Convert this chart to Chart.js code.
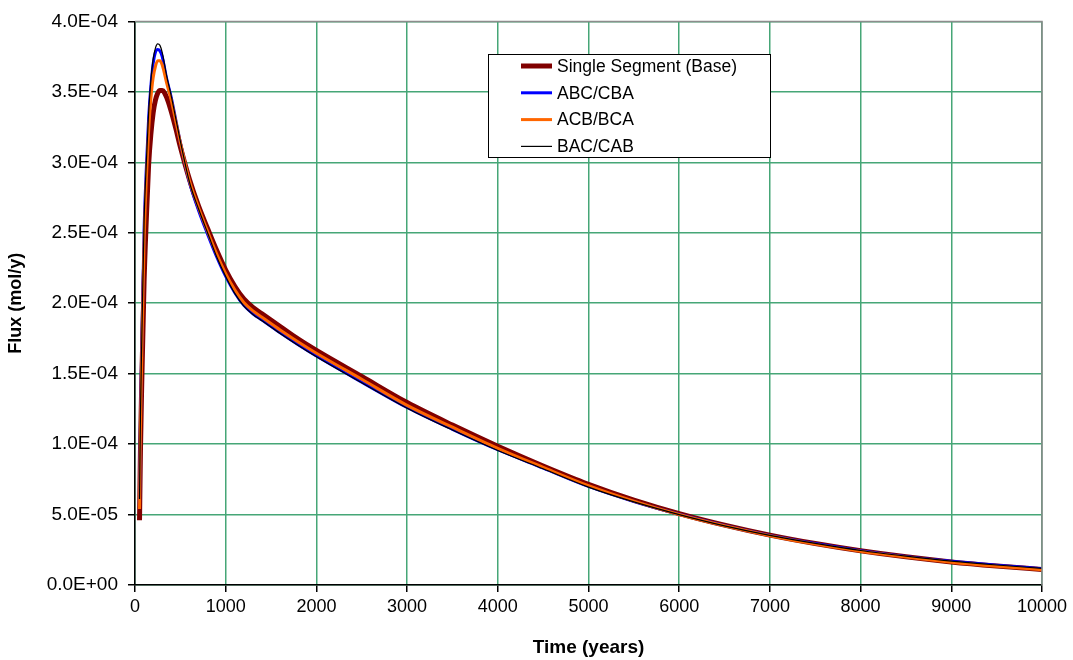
<!DOCTYPE html>
<html>
<head>
<meta charset="utf-8">
<script src="https://cdn.jsdelivr.net/npm/chart.js@4.4.1/dist/chart.umd.min.js"></script>
<style>
  html, body { margin: 0; padding: 0; background: #fff; }
  #wrap { width: 1073px; height: 660px; }
</style>
</head>
<body>
<div id="wrap"><canvas id="flux" width="1073" height="660"></canvas></div>
<script>
// time (years)
const years = [50, 60, 75, 100, 125, 150, 175, 200, 225, 250, 275, 300, 350, 400, 450, 500,
	600, 700, 800, 900, 1000, 1100, 1200, 1300, 1400, 1600, 1800, 2000, 2500, 3000, 3500, 4000, 4500,
	5000, 5500, 6000, 6500, 7000, 7500, 8000, 8500, 9000, 9500, 10000];

// flux (mol/y)
const baseFlux = [4.6e-5, 9.5e-5, 1.45e-4, 2.15e-4, 2.6e-4, 2.98e-4, 3.2e-4, 3.35e-4, 3.44e-4, 3.49e-4, 3.51e-4, 3.51e-4, 3.46e-4, 3.36e-4, 3.24e-4, 3.11e-4,
	2.88e-4, 2.69e-4, 2.53e-4, 2.375e-4, 2.235e-4, 2.12e-4, 2.03e-4, 1.97e-4, 1.925e-4, 1.835e-4, 1.745e-4, 1.665e-4, 1.48e-4, 1.295e-4, 1.135e-4, 9.85e-5, 8.45e-5,
	7.15e-5, 6.03e-5, 5.07e-5, 4.25e-5, 3.54e-5, 2.94e-5, 2.43e-5, 2.0e-5, 1.64e-5, 1.35e-5, 1.1e-5];
const abcFlux = [5.8e-5, 1.15e-4, 1.7e-4, 2.52e-4, 2.96e-4, 3.31e-4, 3.54e-4, 3.7e-4, 3.78e-4, 3.8e-4, 3.79e-4, 3.75e-4, 3.59e-4, 3.46e-4, 3.3e-4, 3.14e-4,
	2.86e-4, 2.66e-4, 2.49e-4, 2.33e-4, 2.19e-4, 2.075e-4, 1.985e-4, 1.925e-4, 1.88e-4, 1.79e-4, 1.705e-4, 1.625e-4, 1.44e-4, 1.26e-4, 1.105e-4, 9.6e-5, 8.3e-5,
	7.0e-5, 5.93e-5, 5.02e-5, 4.22e-5, 3.52e-5, 2.94e-5, 2.44e-5, 2.03e-5, 1.68e-5, 1.4e-5, 1.16e-5];
const acbFlux = [5.4e-5, 1.1e-4, 1.62e-4, 2.42e-4, 2.88e-4, 3.22e-4, 3.45e-4, 3.6e-4, 3.68e-4, 3.72e-4, 3.72e-4, 3.69e-4, 3.56e-4, 3.44e-4, 3.29e-4, 3.14e-4,
	2.87e-4, 2.68e-4, 2.51e-4, 2.35e-4, 2.21e-4, 2.095e-4, 2.005e-4, 1.945e-4, 1.9e-4, 1.81e-4, 1.725e-4, 1.645e-4, 1.46e-4, 1.275e-4, 1.12e-4, 9.7e-5, 8.35e-5,
	7.05e-5, 5.95e-5, 5.0e-5, 4.2e-5, 3.5e-5, 2.9e-5, 2.4e-5, 1.98e-5, 1.62e-5, 1.33e-5, 1.08e-5];
const bacFlux = [6.1e-5, 1.2e-4, 1.75e-4, 2.58e-4, 3.0e-4, 3.35e-4, 3.58e-4, 3.73e-4, 3.81e-4, 3.84e-4, 3.83e-4, 3.78e-4, 3.61e-4, 3.47e-4, 3.31e-4, 3.15e-4,
	2.86e-4, 2.67e-4, 2.5e-4, 2.33e-4, 2.19e-4, 2.07e-4, 1.98e-4, 1.92e-4, 1.875e-4, 1.785e-4, 1.7e-4, 1.62e-4, 1.435e-4, 1.255e-4, 1.1e-4, 9.55e-5, 8.25e-5,
	6.95e-5, 5.9e-5, 5.0e-5, 4.2e-5, 3.52e-5, 2.95e-5, 2.45e-5, 2.05e-5, 1.7e-5, 1.42e-5, 1.18e-5];

const seriesNames = ["Single Segment (Base)", "ABC/CBA", "ACB/BCA", "BAC/CAB"];
const seriesColors = ["#800000", "#0000ff", "#ff6600", "#000000"];
const seriesWidths = [5, 3, 3, 1.2];

const xTicks = [0, 1000, 2000, 3000, 4000, 5000, 6000, 7000, 8000, 9000, 10000];
const yTicks = [0, 5e-5, 1e-4, 1.5e-4, 2e-4, 2.5e-4, 3e-4, 3.5e-4, 4e-4];

const FONT = "'Liberation Sans', Arial, sans-serif";

function pts(vals) {
	return years.map((t, i) => ({ x: t, y: vals[i] }));
}

function sciLabel(v) {
	let s = Number(v).toExponential(1).toUpperCase(); // e.g. 3.5E-4
	const m = s.match(/^(-?[\d.]+)E([+-])(\d+)$/);
	if (!m) return s;
	return m[1] + "E" + m[2] + m[3].padStart(2, "0");
}

// legend box drawn inside the plot, plus the grey frame on top/right
const boxLegend = {
	id: "boxLegend",
	afterDraw(chart) {
		const c = chart.ctx;
		const a = chart.chartArea;
		c.save();
		c.strokeStyle = "#8c8c8c";
		c.lineWidth = 1.5;
		c.beginPath();
		c.moveTo(a.left, a.top);
		c.lineTo(a.right, a.top);
		c.lineTo(a.right, a.bottom);
		c.stroke();

		const bx = 488, by = 54, bw = 282, bh = 103;
		c.fillStyle = "#fff";
		c.fillRect(bx, by, bw, bh);
		c.strokeStyle = "#000";
		c.lineWidth = 1;
		c.strokeRect(bx + 0.5, by + 0.5, bw, bh);

		c.font = "17.5px " + FONT;
		c.textBaseline = "middle";
		c.textAlign = "left";
		chart.data.datasets.forEach((ds, i) => {
			const y = by + 12 + i * 26.8;
			c.strokeStyle = ds.borderColor;
			c.lineWidth = Math.max(ds.borderWidth, 1);
			c.beginPath();
			c.moveTo(521, y);
			c.lineTo(552, y);
			c.stroke();
			c.fillStyle = "#000";
			c.fillText(ds.label, 557, y + 1);
		});
		c.restore();
	}
};

const ctx = document.getElementById("flux").getContext("2d");
const chart = new Chart(ctx, {
	type: "line",
	data: {
		datasets: [
			{ label: seriesNames[0], data: pts(baseFlux), borderColor: seriesColors[0], borderWidth: seriesWidths[0], order: 4 },
			{ label: seriesNames[1], data: pts(abcFlux), borderColor: seriesColors[1], borderWidth: seriesWidths[1], order: 3 },
			{ label: seriesNames[2], data: pts(acbFlux), borderColor: seriesColors[2], borderWidth: seriesWidths[2], order: 2 },
			{ label: seriesNames[3], data: pts(bacFlux), borderColor: seriesColors[3], borderWidth: seriesWidths[3], order: 1 },
		],
	},
	options: {
		responsive: false,
		animation: false,
		devicePixelRatio: 1,
		layout: { padding: { top: 16, right: 31, left: 0, bottom: 0 } },
		elements: {
			point: { radius: 0 },
			line: { cubicInterpolationMode: "monotone", fill: false },
		},
		plugins: {
			legend: { display: false },
			tooltip: { enabled: false },
		},
		scales: {
			x: {
				type: "linear",
				min: 0,
				max: 10000,
				afterFit(scale) { scale.height = 75; },
				afterBuildTicks(scale) { scale.ticks = xTicks.map(v => ({ value: v })); },
				ticks: {
					color: "#000",
					font: { family: FONT, size: 18 },
					padding: 4,
					maxRotation: 0,
					callback: v => String(v),
				},
				grid: { color: "#46a677", lineWidth: 1.5, tickLength: 7, tickColor: "#000" },
				border: { color: "#000", width: 1.5 },
				title: {
					display: true,
					text: "Time (years)",
					color: "#000",
					font: { family: FONT, size: 19, weight: "bold" },
					padding: { top: 0, bottom: 1 },
				},
			},
			y: {
				min: 0,
				max: 4e-4,
				afterFit(scale) { scale.width = 135; },
				afterBuildTicks(scale) { scale.ticks = yTicks.map(v => ({ value: v })); },
				ticks: {
					color: "#000",
					font: { family: FONT, size: 19 },
					padding: 10,
					callback: v => sciLabel(v),
				},
				grid: { color: "#46a677", lineWidth: 1.5, tickLength: 7, tickColor: "#000" },
				border: { color: "#000", width: 1.5 },
				title: {
					display: true,
					text: "Flux (mol/y)",
					color: "#000",
					font: { family: FONT, size: 18, weight: "bold" },
					padding: { top: 5, bottom: 0 },
				},
			},
		},
	},
	plugins: [boxLegend],
});
</script>
</body>
</html>
